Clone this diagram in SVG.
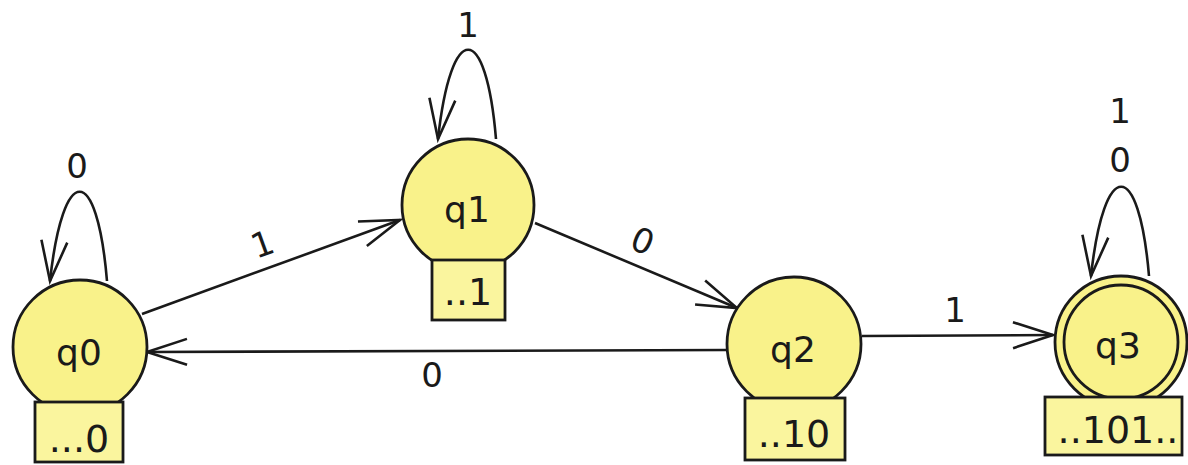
<svg xmlns="http://www.w3.org/2000/svg" width="1188" height="465" viewBox="0 0 1188 465">
<style>
.st{fill:#f9f28a;stroke:#1a1a1a;stroke-width:2.8}
.bx{fill:#faf59e;stroke:#1a1a1a;stroke-width:2.8}
.sl{font-family:"DejaVu Sans",Verdana,sans-serif;font-size:36px;fill:#1a1a1a;text-anchor:middle}
.bl{font-family:"DejaVu Sans",Verdana,sans-serif;font-size:38px;fill:#1a1a1a;text-anchor:middle}
.el{font-family:"DejaVu Sans",Verdana,sans-serif;font-size:34px;fill:#1a1a1a;text-anchor:middle}
.ed{fill:none;stroke:#1a1a1a;stroke-width:2.6;marker-end:url(#ah)}
</style>
<defs>
<marker id="ah" markerUnits="userSpaceOnUse" markerWidth="50" markerHeight="40" viewBox="-45 -20 50 40" refX="0" refY="0" orient="auto">
<path d="M -40 -13 L 0 0 L -40 13" fill="none" stroke="#1a1a1a" stroke-width="2.6"/>
</marker>
</defs>
<rect width="1188" height="465" fill="#ffffff"/>
<g id="edges">
<path class="ed" d="M 107 281 C 97 162, 63 162, 50 281"/>
<path class="ed" d="M 496 139 C 486 20, 451 20, 438 139"/>
<path class="ed" d="M 1149 276 C 1139 157, 1104 157, 1091 276"/>
<path class="ed" d="M 142 314 L 400 220"/>
<path class="ed" d="M 535 223 L 737 308"/>
<path class="ed" d="M 727 350 L 147 352"/>
<path class="ed" d="M 862 336 L 1053 335"/>
<text class="el" x="77" y="178">0</text>
<text class="el" x="468" y="37">1</text>
<text class="el" x="1120" y="123">1</text>
<text class="el" x="1120" y="172">0</text>
<text class="el" transform="translate(262,243) rotate(-20)" y="13">1</text>
<text class="el" transform="translate(643,240) rotate(23)" y="13">0</text>
<text class="el" x="955" y="322">1</text>
<text class="el" x="432" y="387">0</text>
</g>
<g id="q0">
<circle class="st" cx="80" cy="347" r="67"/>
<text class="sl" x="79" y="365">q0</text>
<rect class="bx" x="35" y="402" width="88" height="60"/>
<text class="bl" x="79" y="452">...0</text>
</g>
<g id="q1">
<circle class="st" cx="468" cy="205" r="66"/>
<text class="sl" x="467" y="222">q1</text>
<rect class="bx" x="432" y="260" width="73" height="60"/>
<text class="bl" x="468" y="305">..1</text>
</g>
<g id="q2">
<circle class="st" cx="794" cy="344" r="67"/>
<text class="sl" x="793" y="362">q2</text>
<rect class="bx" x="745" y="398" width="100" height="62"/>
<text class="bl" x="794" y="447">..10</text>
</g>
<g id="q3">
<circle class="st" cx="1121" cy="342" r="66"/>
<circle class="st" cx="1121" cy="342" r="57"/>
<text class="sl" x="1118" y="358">q3</text>
<rect class="bx" x="1045" y="397" width="137" height="58"/>
<text class="bl" x="1118" y="443">..101..</text>
</g>
</svg>
